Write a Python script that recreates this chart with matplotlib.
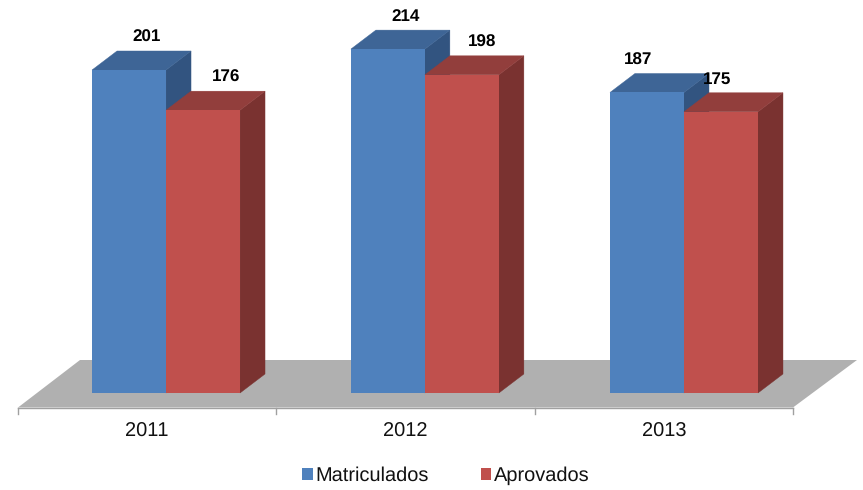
import matplotlib
matplotlib.use('Agg')
import matplotlib.pyplot as plt
import numpy as np
from matplotlib.patches import Polygon

plt.rcParams['font.family'] = ['Liberation Sans', 'DejaVu Sans']
plt.rcParams['text.hinting'] = 'no_hinting'
plt.rcParams['text.hinting_factor'] = 1

years = ['2011', '2012', '2013']
matriculados = [201, 214, 187]
aprovados = [176, 198, 175]

# figure is mapped 1:1 to pixels through these
W, H = 863, 490
left_px, cat_px = 18, 258.33
base_px, val_px = 393, 1.607
dx_px, dy_px = 25, 19
floor_front_px = 407.5
floor_back_px = 360
bar_w = 74 / cat_px
group_shift = [0.573, 1.575, 2.578]
# data labels were nudged by hand in the original
off_blue = [18, 18, -9]
off_red = [23, 20, -4]

fig = plt.figure(figsize=(W / 100, H / 100), dpi=100)
ax = fig.add_axes([0, 0, 1, 1])
ax.set_xlim(-left_px / cat_px, (W - left_px) / cat_px)
ax.set_ylim(-(H - base_px) / val_px, base_px / val_px)
ax.axis('off')

dx = dx_px / cat_px
dy = dy_px / val_px


def draw_bars(x0, vals, front, top, side, off, z):
    for i, v in enumerate(vals):
        x = x0[i]
        side_p = [(x + bar_w, 0), (x + bar_w + dx, dy), (x + bar_w + dx, v + dy), (x + bar_w, v)]
        top_p = [(x, v), (x + dx, v + dy), (x + bar_w + dx, v + dy), (x + bar_w, v)]
        ax.add_patch(Polygon(side_p, fc=side, ec=side, lw=0.3, zorder=z))
        ax.add_patch(Polygon(top_p, fc=top, ec=top, lw=0.3, zorder=z))
        ax.text(x + bar_w / 2 + off[i] / cat_px, v + dy + 13.5 / val_px, str(v),
                ha='center', va='center', fontsize=12, fontweight='bold', color='black', zorder=6)
    return ax.bar(x0, vals, bar_w, align='edge', color=front, zorder=z + 1)


# floor
y_front = (base_px - floor_front_px) / val_px
y_back = (base_px - floor_back_px) / val_px
ax.add_patch(Polygon([(0, y_front), (3, y_front), (3 + 64 / cat_px, y_back), (62 / cat_px, y_back)],
                     fc='#B0B0B0', ec='none', zorder=1))
ax.plot([0, 3], [y_front, y_front], color='#A0A0A0', lw=1, zorder=2)
for i in range(4):
    ax.plot([i, i], [y_front, y_front - 6 / val_px], color='#A0A0A0', lw=1, zorder=2)
for i, y in enumerate(years):
    ax.text(i + 0.5, (base_px - 432) / val_px, y, ha='center', va='center', fontsize=14.5, color='#111111')

x = np.array(group_shift)
b1 = draw_bars(x - bar_w, matriculados, '#4F81BD', '#3E6596', '#325480', off_blue, 3)
b2 = draw_bars(x, aprovados, '#C0504D', '#923E3C', '#7A3230', off_red, 4)

ax.legend([b1, b2], ['Matriculados', 'Aprovados'], ncol=2, frameon=False, fontsize=14.3,
          loc='center', bbox_to_anchor=(446 / W, 1 - 476 / H), bbox_transform=fig.transFigure,
          handlelength=0.52, handleheight=0.52, handletextpad=0.15, columnspacing=2.6,
          borderpad=0, labelcolor='#111111')

fig.savefig('out.png', dpi=100)
